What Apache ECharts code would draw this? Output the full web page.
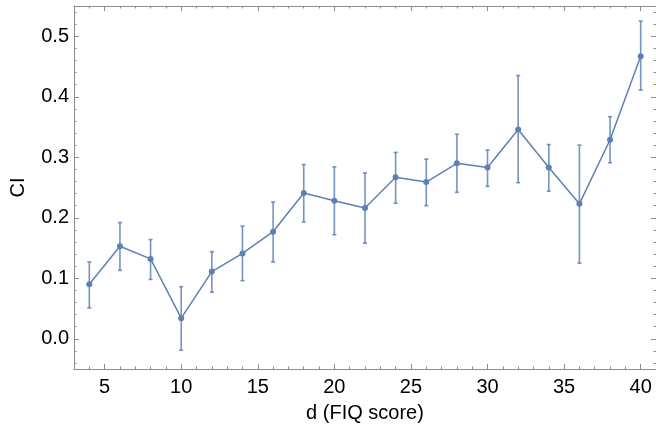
<!DOCTYPE html>
<html>
<head>
<meta charset="utf-8">
<script src="https://cdn.jsdelivr.net/npm/echarts@6/dist/echarts.min.js"></script>
<style>
  html, body { margin: 0; padding: 0; background: #fff; }
  #main { width: 656px; height: 428px; }
</style>
</head>
<body>
<div id="main"></div>
<script>
// FIQ score bins and CI with error bounds
var fiq = [4, 6, 8, 10, 12, 14, 16, 18, 20, 22, 24, 26, 28, 30, 32, 34, 36, 38, 40];
var ciMean = [0.090, 0.153, 0.132, 0.034, 0.111, 0.141, 0.177, 0.241, 0.228, 0.216, 0.267, 0.259, 0.290, 0.283, 0.346, 0.283, 0.223, 0.329, 0.467];
var ciLow  = [0.051, 0.113, 0.098, -0.019, 0.077, 0.096, 0.127, 0.193, 0.172, 0.158, 0.224, 0.220, 0.242, 0.252, 0.258, 0.244, 0.125, 0.291, 0.411];
var ciHigh = [0.127, 0.192, 0.164, 0.086, 0.144, 0.186, 0.226, 0.288, 0.284, 0.274, 0.308, 0.297, 0.338, 0.312, 0.435, 0.321, 0.320, 0.367, 0.525];

var xMajor = [5, 10, 15, 20, 25, 30, 35, 40];
var xMinor = [4, 6, 7, 8, 9, 11, 12, 13, 14, 16, 17, 18, 19, 21, 22, 23, 24, 26, 27, 28, 29, 31, 32, 33, 34, 36, 37, 38, 39];
var yMajor = [0, 0.1, 0.2, 0.3, 0.4, 0.5];
var yMinor = [-0.04, -0.02, 0.02, 0.04, 0.06, 0.08, 0.12, 0.14, 0.16, 0.18, 0.22, 0.24, 0.26, 0.28, 0.32, 0.34, 0.36, 0.38, 0.42, 0.44, 0.46, 0.48, 0.52, 0.54];

var blue = '#5e81b5';
var frame = '#8c8c8c';
var font = 'Liberation Sans, Arial, sans-serif';

var myChart = echarts.init(document.getElementById('main'));

function xAx(pos, ticks, len, showLine, labels) {
    return {
        type: 'value', position: pos, min: 3, max: 41,
        axisLine: { show: showLine, onZero: false, lineStyle: { color: frame, width: 1 } },
        axisTick: { show: true, inside: true, length: len, customValues: ticks, lineStyle: { color: frame } },
        axisLabel: labels ? { show: true, customValues: ticks, color: '#000', fontSize: 20, fontFamily: font, margin: 8 } : { show: false },
        splitLine: { show: false }
    };
}
function yAx(pos, ticks, len, showLine, labels) {
    return {
        type: 'value', position: pos, min: -0.05, max: 0.55,
        axisLine: { show: showLine, onZero: false, lineStyle: { color: frame, width: 1 } },
        axisTick: { show: true, inside: true, length: len, customValues: ticks, lineStyle: { color: frame } },
        axisLabel: labels ? {
            show: true, customValues: ticks, color: '#000', fontSize: 20, fontFamily: font, margin: 5,
            formatter: function (v) { return v.toFixed(1); }
        } : { show: false },
        splitLine: { show: false }
    };
}

var xMain = xAx('bottom', xMajor, 5, true, true);
xMain.name = 'd (FIQ score)';
xMain.nameLocation = 'middle';
xMain.nameGap = 34;
xMain.nameTextStyle = { color: '#000', fontSize: 20, fontFamily: font };

var yMain = yAx('left', yMajor, 5, true, true);
yMain.name = 'CI';
yMain.nameLocation = 'middle';
yMain.nameGap = 46;
yMain.nameTextStyle = { color: '#000', fontSize: 20, fontFamily: font };

var option = {
    animation: false,
    grid: { left: 74, top: 6, right: -3, bottom: 59, containLabel: false },
    xAxis: [
        xMain,
        xAx('bottom', xMinor, 2.5, false, false),
        xAx('top', xMajor, 5, true, false),
        xAx('top', xMinor, 2.5, false, false)
    ],
    yAxis: [
        yMain,
        yAx('left', yMinor, 2.5, false, false),
        yAx('right', yMajor, 5, true, false),
        yAx('right', yMinor, 2.5, false, false)
    ],
    series: [
        {
            type: 'custom',
            xAxisIndex: 0, yAxisIndex: 0,
            data: fiq.map(function (x, i) { return [x, ciLow[i], ciHigh[i]]; }),
            renderItem: function (params, api) {
                var lo = api.coord([api.value(0), api.value(1)]);
                var hi = api.coord([api.value(0), api.value(2)]);
                var cap = 2;
                var st = { stroke: 'rgba(94,129,181,0.85)', lineWidth: 1.6 };
                return {
                    type: 'group',
                    children: [
                        { type: 'line', shape: { x1: lo[0], y1: lo[1], x2: hi[0], y2: hi[1] }, style: st },
                        { type: 'line', shape: { x1: lo[0] - cap, y1: lo[1], x2: lo[0] + cap, y2: lo[1] }, style: st },
                        { type: 'line', shape: { x1: hi[0] - cap, y1: hi[1], x2: hi[0] + cap, y2: hi[1] }, style: st }
                    ]
                };
            },
            z: 2
        },
        {
            type: 'line',
            xAxisIndex: 0, yAxisIndex: 0,
            data: fiq.map(function (x, i) { return [x, ciMean[i]]; }),
            symbol: 'circle',
            symbolSize: 6,
            lineStyle: { color: blue, width: 1.5 },
            itemStyle: { color: blue },
            z: 3
        }
    ]
};

myChart.setOption(option);
</script>
</body>
</html>
